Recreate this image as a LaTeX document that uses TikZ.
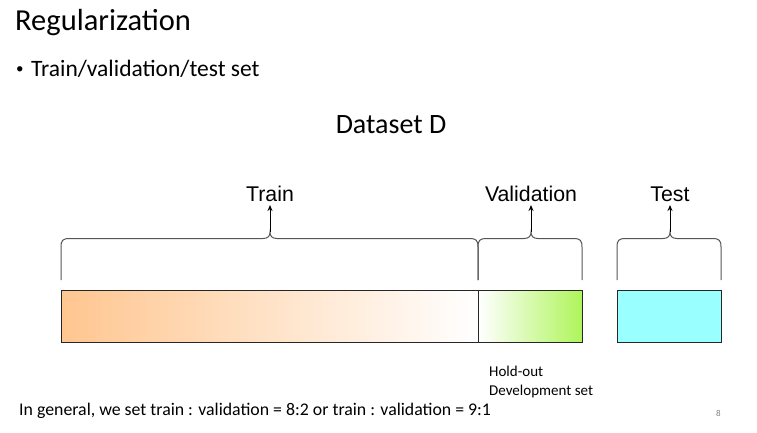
\documentclass[tikz,border=0pt]{standalone}
\usepackage{fontspec}
\setmainfont{Carlito}
\newfontfamily\labfont{Liberation Sans}
\usetikzlibrary{arrows.meta}
\definecolor{peach}{HTML}{FFC690}
\definecolor{lgreen}{HTML}{AEF55A}
\definecolor{tcyan}{HTML}{99FFFF}
\definecolor{bracegray}{HTML}{555555}
\tikzset{
  bar/.style={draw=black!85, line width=0.8pt, minimum height=52pt, inner sep=0pt, anchor=north west},
  lab/.style={font=\labfont\fontsize{21.3}{23}\selectfont, inner sep=0pt, anchor=base},
  brace/.style={draw=bracegray, line width=1pt},
  pointer/.style={draw=black, line width=1pt, -{Stealth[length=6pt,width=5pt]}},
  body/.style={inner sep=0pt, anchor=base west},
}
\begin{document}
\begin{tikzpicture}[x=1pt,y=-1pt]
\useasboundingbox[fill=white] (0,0) rectangle (757,432);
% texts
\node[body, font=\fontsize{30.5}{34}\selectfont] (title) at (15,30) {Regularization};
\node[body, font=\fontsize{15}{17}\selectfont] (bulletdot) at (16,73) {•};
\node[body, font=\fontsize{23.5}{27}\selectfont] (bullet) at (31,76) {Train/validation/test set};
\node[inner sep=0pt, anchor=base, font=\fontsize{28}{32}\selectfont] (dataset) at (391,133) {Dataset D};
% bars
\node[bar, minimum width=417pt, left color=peach, right color=white] (trainbar) at (61,290) {};
\node[bar, minimum width=104pt, left color=white, right color=lgreen] (valbar) at (478,290) {};
\node[bar, minimum width=104pt, fill=tcyan] (testbar) at (617,290) {};
% labels
\node[lab] (trainlab) at (270,201) {Train};
\node[lab] (vallab) at (531,201) {Validation};
\node[lab] (testlab) at (670,201) {Test};
% braces
\foreach \a/\m/\b/\n in {61/270/478/tr, 478/531/582/va, 617/670/721/te}{
  \coordinate (cusp\n) at (\m,232);
  \draw[brace] (\a,280) -- (\a,247) .. controls (\a,240) and (\a+2,238.5) .. (\a+9,238.5)
     -- (\m-7,238.5) .. controls (\m-2,238.5) and (\m,236) .. (cusp\n)
     .. controls (\m,236) and (\m+2,238.5) .. (\m+7,238.5)
     -- (\b-9,238.5) .. controls (\b-2,238.5) and (\b,240) .. (\b,247) -- (\b,280);
}
\draw[pointer] (cusptr) -- (trainlab.south |- 0,205);
\draw[pointer] (cuspva) -- (vallab.south |- 0,205);
\draw[pointer] (cuspte) -- (testlab.south |- 0,205);
% notes
\node[body, font=\fontsize{15}{17}\selectfont] (holdout) at (489,376) {Hold-out};
\node[body, font=\fontsize{15}{17}\selectfont] (devset) at (489,395) {Development set};
\node[body, font=\fontsize{17.8}{20}\selectfont] (general) at (19,415) {In general, we set train : validation = 8:2 or train : validation = 9:1};
\node[body, font=\fontsize{9}{10}\selectfont, text=gray] (pagenum) at (716,416) {8};
\end{tikzpicture}
\end{document}
